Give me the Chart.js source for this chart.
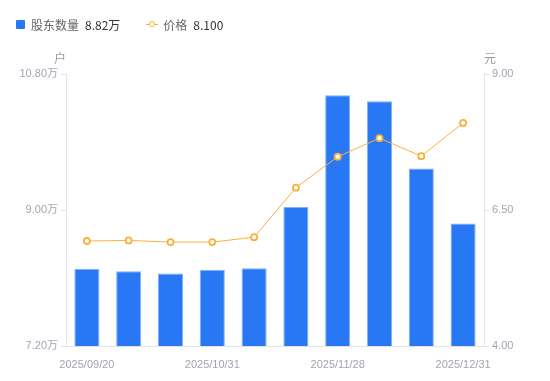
<!DOCTYPE html>
<html>
<head>
<meta charset="utf-8">
<script src="https://cdn.jsdelivr.net/npm/chart.js@4/dist/chart.umd.min.js"></script>
<style>
  html, body { margin: 0; padding: 0; background: #fff; }
  #wrap { position: relative; width: 550px; height: 381px; }
  #legend { position: absolute; left: 16px; top: 15px; height: 18px; display: flex; align-items: center;
    font-family: "Noto Sans CJK SC", "Liberation Sans", sans-serif; font-size: 12px; color: #666; }
  .item { display: flex; align-items: center; margin-right: 26px; }
  .sq { width: 9px; height: 9px; background: #2878f5; border-radius: 1px; margin-right: 6px; }
  .ln { position: relative; width: 12px; height: 9px; margin-right: 5px; }
  .ln:before { content: ""; position: absolute; left: 0; right: 0; top: 4px; height: 1px; background: #fbb03b; }
  .ln:after { content: ""; position: absolute; left: 3px; top: 1.5px; width: 4px; height: 4px; border: 1.5px solid #fbb03b; border-radius: 50%; background: #fff; }
  .val { color: #333; margin-left: 6px; }
</style>
</head>
<body>
<div id="wrap">
  <canvas id="c" width="550" height="381"></canvas>
  <div id="legend"></div>
</div>
<script>
const categories = ["2025/09/20","2025/09/30","2025/10/20","2025/10/31","2025/11/10","2025/11/20","2025/11/28","2025/12/10","2025/12/20","2025/12/31"];
const shownLabels = ["2025/09/20","2025/10/31","2025/11/28","2025/12/31"];
const holders = [8.22, 8.19, 8.16, 8.21, 8.23, 9.04, 10.52, 10.44, 9.55, 8.82];
const prices = [5.93, 5.94, 5.91, 5.91, 6.00, 6.91, 7.48, 7.82, 7.49, 8.10];
const seriesNames = ["股东数量", "价格"];
const legendValues = ["8.82万", "8.100"];
const leftUnit = "户";
const rightUnit = "元";

document.getElementById('legend').innerHTML =
  '<div class="item"><span class="sq"></span>' + seriesNames[0] + '<span class="val">' + legendValues[0] + '</span></div>' +
  '<div class="item"><span class="ln"></span>' + seriesNames[1] + '<span class="val">' + legendValues[1] + '</span></div>';

const tickFont = { family: '"Liberation Sans", "Noto Sans CJK SC", sans-serif', size: 11 };
const tickColor = '#a3a3b3';
const axisColor = '#e3e3ea';

const unitPlugin = {
  id: 'units',
  afterDraw(chart) {
    const ctx = chart.ctx;
    ctx.save();
    ctx.font = '12px "Noto Sans CJK SC", sans-serif';
    ctx.fillStyle = '#999';
    ctx.textAlign = 'center';
    ctx.textBaseline = 'middle';
    const y = chart.scales.y, y1 = chart.scales.y1;
    ctx.fillText(leftUnit, y.right - 6, y.top - 16);
    ctx.fillText(rightUnit, y1.left + 6, y1.top - 16);
    ctx.restore();
  }
};

new Chart(document.getElementById('c'), {
  data: {
    labels: categories,
    datasets: [
      {
        type: 'line', label: seriesNames[1], data: prices, yAxisID: 'y1',
        borderColor: '#fbb03b', borderWidth: 1, backgroundColor: '#fff',
        pointRadius: 3, pointBorderWidth: 1.8, pointBackgroundColor: '#fff', pointBorderColor: '#fbb03b',
        tension: 0, order: 0
      },
      {
        type: 'bar', label: seriesNames[0], data: holders, yAxisID: 'y',
        backgroundColor: '#2878f5', borderColor: '#7fb0f8', borderWidth: 1,
        barPercentage: 0.6, categoryPercentage: 1, order: 1, borderSkipped: 'bottom'
      }
    ]
  },
  options: {
    responsive: false, animation: false,
    layout: { padding: { left: 0, right: 0, top: 74, bottom: 0 } },
    plugins: { legend: { display: false }, tooltip: { enabled: false } },
    scales: {
      x: {
        offset: true,
        grid: { display: false },
        border: { color: axisColor },
        ticks: {
          autoSkip: false, maxRotation: 0, font: tickFont, color: tickColor, padding: 4,
          callback: function(v, i) { const l = categories[i]; return shownLabels.includes(l) ? l : ''; }
        },
        afterFit(s) { s.height = 35; }
      },
      y: {
        position: 'left', min: 7.2, max: 10.8,
        afterBuildTicks(s) { s.ticks = [7.2, 9.0, 10.8].map(v => ({ value: v })); },
        grid: { drawOnChartArea: false, drawTicks: true, tickLength: 5, color: axisColor },
        border: { color: axisColor },
        ticks: { font: tickFont, color: tickColor, padding: 3, callback: v => v.toFixed(2) + '万' },
        afterFit(s) { s.width = 66; }
      },
      y1: {
        position: 'right', min: 4, max: 9,
        afterBuildTicks(s) { s.ticks = [4, 6.5, 9].map(v => ({ value: v })); },
        grid: { drawOnChartArea: false, drawTicks: true, tickLength: 5, color: axisColor },
        border: { color: axisColor },
        ticks: { font: tickFont, color: tickColor, padding: 3, callback: v => v.toFixed(2) },
        afterFit(s) { s.width = 66; }
      }
    }
  },
  plugins: [unitPlugin]
});
</script>
</body>
</html>
